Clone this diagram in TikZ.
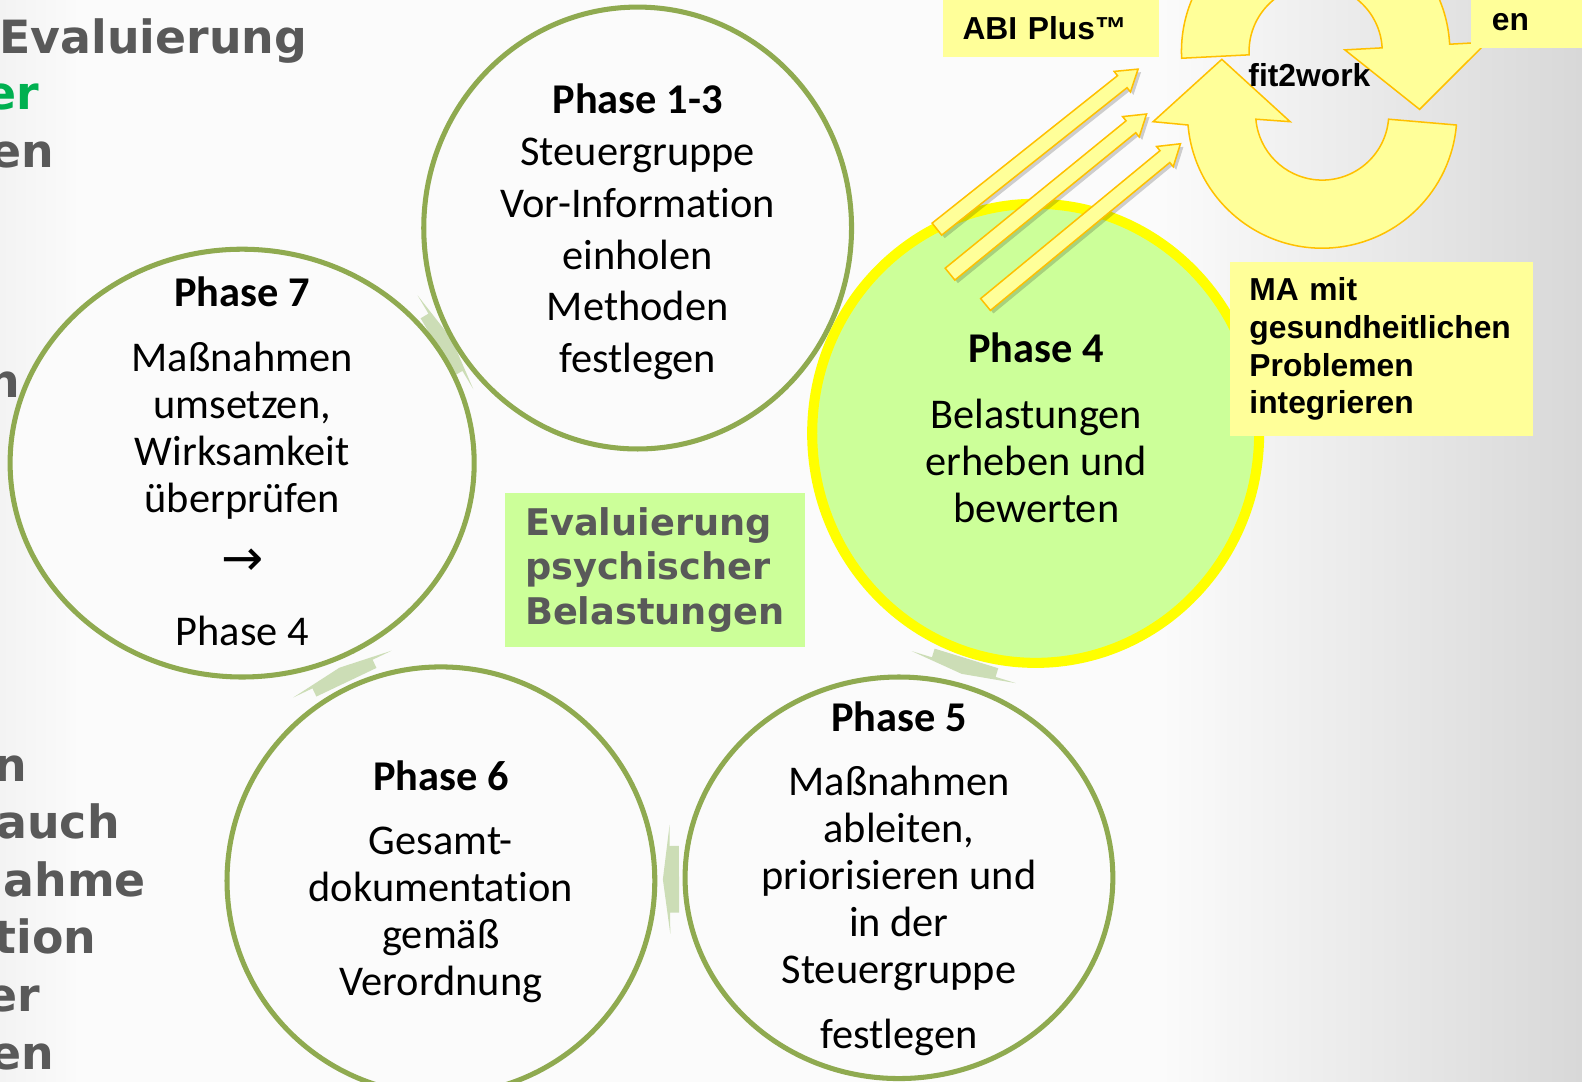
\documentclass[tikz,border=0pt]{standalone}
\usepackage{fontspec}
\setmainfont{Carlito}[Ligatures={NoCommon,NoContextual}, Contextuals=NoAlternate]
\newfontfamily\verdfont{DejaVu Sans}
\newfontfamily\arialfont{Liberation Sans}
\usepackage{tikz}
\usetikzlibrary{shapes.geometric, calc, positioning}
\definecolor{bgwhite}{RGB}{251,251,251}
\definecolor{bgleft}{RGB}{243,243,243}
\definecolor{bggray}{RGB}{216,216,216}
\definecolor{phasegreen}{RGB}{143,170,80}
\definecolor{cyclegreen}{RGB}{204,221,182}
\definecolor{limegreen}{RGB}{204,255,153}
\definecolor{ringyellow}{RGB}{255,255,0}
\definecolor{noteyellow}{RGB}{255,255,153}
\definecolor{notegold}{RGB}{255,192,0}
\definecolor{textgray}{RGB}{89,89,89}
\definecolor{titlegreen}{RGB}{0,176,80}

% block arrow: options, tail, tip, shaft half width, head half width, head length
\newcommand{\blockarrow}[6]{%
  \path ($(#3)!#6!(#2)$) coordinate (hb);
  \path[#1] ($(#2)!#4!90:(#3)$) -- ($(hb)!#4!90:(#3)$) -- ($(hb)!#5!90:(#3)$) -- (#3)
    -- ($(hb)!#5!-90:(#3)$) -- ($(hb)!#4!-90:(#3)$) -- ($(#2)!#4!-90:(#3)$) -- cycle;
}
% short arrow in the gap between two phases
\newcommand{\cyclearrow}[3]{%
  \coordinate (ca) at ($(#1)!#3!(#2)$);
  \coordinate (cs) at ($(ca)!4.5pt!(#1)$);
  \coordinate (ce) at ($(ca)!3.5pt!(#2)$);
  \blockarrow{fill=cyclegreen}{cs}{ce}{16.5pt}{27pt}{3.5pt}
}
% thin yellow arrow with shadow
\newcommand{\yellowarrow}[2]{%
  \blockarrow{fill=black, opacity=0.18, transform canvas={shift={(1.5pt,-1.5pt)}}}{#1}{#2}{3.8pt}{6.5pt}{10pt}
  \blockarrow{fill=noteyellow, draw=notegold, line width=0.75pt}{#1}{#2}{3.8pt}{6.5pt}{10pt}
}

\begin{document}
\begin{tikzpicture}[x=0.5pt, y=-0.5pt,
    phase/.style={ellipse, draw=phasegreen, line width=2.5pt, fill=bgwhite, inner sep=0pt},
    phasetext/.style={align=center, font=\fontsize{21pt}{23.25pt}\selectfont, inner sep=0pt},
    sidetext/.style={font=\verdfont\bfseries\fontsize{22.7pt}{27pt}\selectfont, inner sep=0pt, anchor=base east},
    notebox/.style={fill=noteyellow, font=\arialfont\bfseries\fontsize{15.75pt}{18.75pt}\selectfont, align=left, inner xsep=9.5pt},
    cyclefill/.style={fill=noteyellow, draw=notegold, line width=0.75pt}]
    \useasboundingbox (0,0) rectangle (1568,1072);

    % Background
    \fill[bgwhite] (0,0) rectangle (1568,1072);
    \shade[left color=bgwhite, right color=bggray] (1150,0) rectangle (1568,1072);
    \shade[left color=bgleft, right color=bgwhite] (0,0) rectangle (80,1072);

    % Cut-off text on the left
    \foreach \ty/\tx/\tc/\tn [count=\i] in {52.9/305/textgray/Evaluierung, 109/39/titlegreen/er,
        166/54/textgray/en, 393.7/20.5/textgray/n, 774.7/27/textgray/n, 830.6/119/textgray/auch,
        888.7/145/textgray/ahme, 944.8/96/textgray/tion, 1002.6/40/textgray/er, 1060.5/54/textgray/en}
        \node[sidetext, text=\tc] (side\i) at (\tx,\ty) {\tn};

    % Phase centres
    \coordinate (c13) at (632,226);
    \coordinate (c4) at (1026.5,429.5);
    \coordinate (c5) at (891,870);
    \coordinate (c6) at (437,873);
    \coordinate (c7) at (240,459);

    % Arrows between phases
    \cyclearrow{c7}{c13}{0.514}
    \cyclearrow{c4}{c5}{0.526}
    \cyclearrow{c5}{c6}{0.5}
    \cyclearrow{c6}{c7}{0.495}

    % Phases
    \node[phase, minimum width=212pt, minimum height=219pt] (p13) at (c13) {};
    \node[phase, minimum width=230pt, minimum height=212pt] (p7) at (c7) {};
    \node[phase, draw=ringyellow, line width=5pt, fill=limegreen, minimum width=221.5pt, minimum height=227.5pt] (p4) at (c4) {};
    \node[phase, minimum width=212pt, minimum height=199pt] (p5) at (c5) {};
    \node[phase, minimum width=212pt, minimum height=212pt] (p6) at (c6) {};

    \node[phasetext, font=\fontsize{21pt}{25.7pt}\selectfont] (p13t) at (632,229.8)
        {\textbf{Phase 1-3}\\Steuergruppe\\Vor-Information\\einholen\\Methoden\\festlegen};
    \node[phasetext] (p7t) at (240,457)
        {\textbf{Phase 7}\\[9.25pt]Maßnahmen\\umsetzen,\\Wirksamkeit\\überprüfen\\[8.15pt]{\verdfont\fontsize{25pt}{25pt}\selectfont →}\\[11.3pt]Phase 4};
    \node[phasetext] (p4t) at (1027,424) {\textbf{Phase 4}\\[9.25pt]Belastungen\\erheben und\\bewerten};
    \node[phasetext] (p5t) at (891,870.8)
        {\textbf{Phase 5}\\[8.75pt]Maßnahmen\\ableiten,\\priorisieren und\\in der\\Steuergruppe\\[8.75pt]festlegen};
    \node[phasetext] (p6t) at (437,873.8) {\textbf{Phase 6}\\[8.75pt]Gesamt-\\dokumentation\\gemäß\\Verordnung};

    % Title box in the middle
    \node[fill=limegreen, text=textgray, font=\verdfont\bfseries\fontsize{18.2pt}{22.25pt}\selectfont,
        align=left, inner xsep=10pt, minimum height=76.5pt, anchor=north west] (evalbox) at (500,488)
        {Evaluierung\\psychischer\\Belastungen};

    % fit2work cycle
    \coordinate (cu) at (1304,51);
    \coordinate (cl) at (1310.5,112.5);
    \coordinate (uptip) at (1407,108.4);
    \coordinate (lowtip) at (1211,58.8);
    \filldraw[cyclefill] ($(cl)+(4.9:66)$) arc[start angle=4.9, end angle=175.1, radius=66]
        -- (1278.7,120.6) -- (lowtip) -- (1142.9,120.6) -- ($(cl)+(175.1:133.5)$)
        arc[start angle=175.1, end angle=4.9, radius=133.5] -- cycle;
    \filldraw[cyclefill] ($(cu)+(177.1:133)$) arc[start angle=177.1, end angle=356.9, radius=133]
        -- ($(cu)+(356.9:170)$) -- (uptip) -- ($(cu)+(356.9:29)$) -- ($(cu)+(356.9:66)$)
        arc[start angle=356.9, end angle=177.1, radius=66] -- cycle;
    \node[font=\arialfont\bfseries\fontsize{15.75pt}{18pt}\selectfont, anchor=base west, inner sep=0pt] (fitlabel) at (1237,85.5) {fit2work};

    % Arrows from Phase 4
    \coordinate (a1s) at (928.6,227.1);
    \coordinate (a1e) at (1128,68.5);
    \coordinate (a2s) at (941.6,271.7);
    \coordinate (a2e) at (1136.4,113);
    \coordinate (a3s) at (976.8,301.8);
    \coordinate (a3e) at (1170,142.5);
    \yellowarrow{a1s}{a1e}
    \yellowarrow{a2s}{a2e}
    \yellowarrow{a3s}{a3e}

    % Notes
    \node[notebox, text width=131pt, minimum height=86.5pt, anchor=north west] (mabox) at (1219,259)
        {MA mit\\gesundheitlichen\\Problemen\\integrieren};
    \node[notebox, anchor=base west, text height=25pt, text depth=8.9pt, inner ysep=0pt, inner xsep=9.9pt,
        text width=87.5pt] (abibox) at (933.8,39) {ABI Plus™};
    \node[notebox, anchor=base west, text height=20pt, text depth=8.75pt, inner ysep=0pt, inner xsep=10.35pt,
        text width=70pt] (enbox) at (1457.6,30.4) {en};
\end{tikzpicture}
\end{document}
